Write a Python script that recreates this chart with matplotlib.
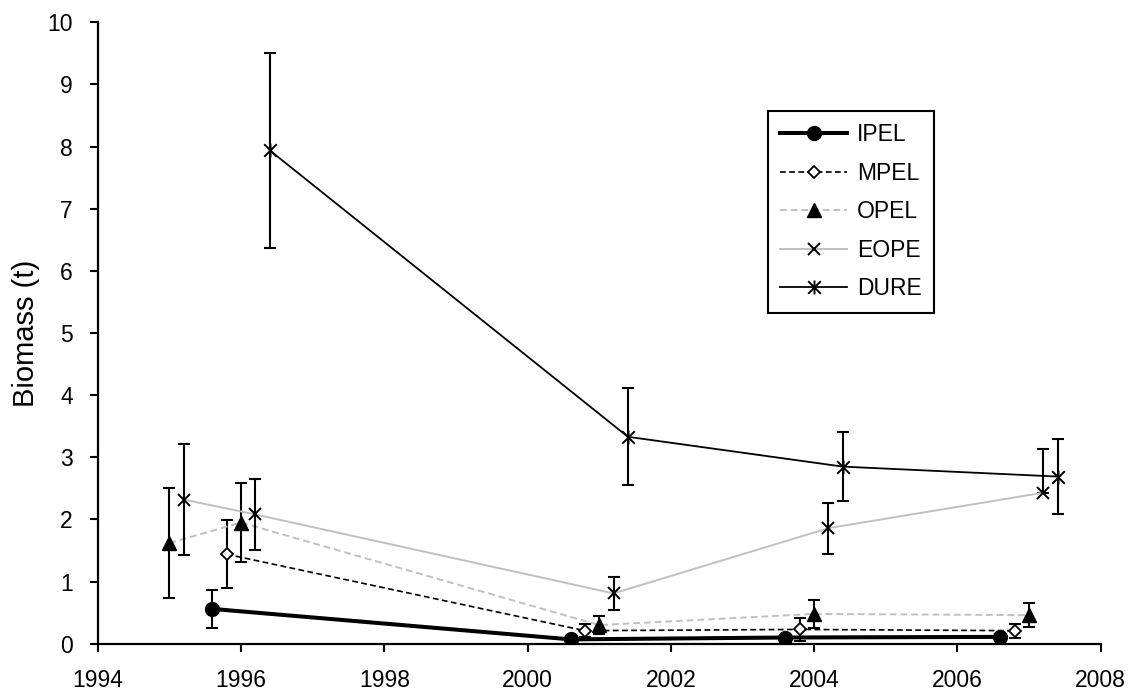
import numpy as np
import matplotlib.pyplot as plt
from matplotlib.path import Path

plt.rcParams['font.family'] = ['Liberation Sans', 'DejaVu Sans']

# survey years (offset per group so the points don't overlap)
ipel_x = [1995.6, 2000.6, 2003.6, 2006.6]
ipel_y = [0.56, 0.07, 0.10, 0.11]
ipel_err = [0.30, 0.03, 0.03, 0.03]

mpel_x = [1995.8, 2000.8, 2003.8, 2006.8]
mpel_y = [1.44, 0.21, 0.23, 0.21]
mpel_err = [0.55, 0.10, 0.19, 0.11]

opel_x = [1995.0, 1996.0, 2001.0, 2004.0, 2007.0]
opel_y = [1.62, 1.95, 0.30, 0.48, 0.46]
opel_err = [0.88, 0.63, 0.14, 0.22, 0.19]

eope_x = [1995.2, 1996.2, 2001.2, 2004.2, 2007.2]
eope_y = [2.32, 2.08, 0.81, 1.86, 2.43]
eope_err_lo = [0.90, 0.57, 0.27, 0.41, 0.0]
eope_err_hi = [0.90, 0.57, 0.27, 0.41, 0.70]

dure_x = [1996.4, 2001.4, 2004.4, 2007.4]
dure_y = [7.94, 3.33, 2.85, 2.69]
dure_err = [1.57, 0.78, 0.55, 0.60]

labels = ["IPEL", "MPEL", "OPEL", "EOPE", "DURE"]

# Excel-like star marker: an x with a vertical bar through it
star = Path([(-1, -1), (1, 1), (-1, 1), (1, -1), (0, -1.1), (0, 1.1)],
            [Path.MOVETO, Path.LINETO, Path.MOVETO, Path.LINETO,
             Path.MOVETO, Path.LINETO])

fig = plt.figure(figsize=(11.34, 6.96), dpi=100)
ax = fig.add_axes([0.0862, 0.0751, 0.8844, 0.8929])

grey = "#c0c0c0"
styles = [
    dict(color="black", lw=2.9, ls="-", marker="o", ms=10, mfc="black", mec="black"),
    dict(color="black", lw=1.2, dashes=(3.5, 2), marker="D", ms=6.5, mfc="white", mec="black", mew=1.3),
    dict(color=grey, lw=1.4, dashes=(3.5, 2), marker="^", ms=10, mfc="black", mec="black"),
    dict(color=grey, lw=1.4, ls="-", marker="x", ms=8.5, mec="black", mew=1.4),
    dict(color="black", lw=1.3, ls="-", marker=star, ms=10, mec="black", mew=1.4, fillstyle="none"),
]
series = [(ipel_x, ipel_y, ipel_err), (mpel_x, mpel_y, mpel_err),
          (opel_x, opel_y, opel_err), (eope_x, eope_y, [eope_err_lo, eope_err_hi]),
          (dure_x, dure_y, dure_err)]

for (x, y, e), st, lab in zip(series, styles, labels):
    ax.errorbar(x, y, yerr=e, fmt="none", ecolor="black", elinewidth=1.5,
                capsize=4, capthick=1.5)
    ax.plot(x, y, label=lab, **st)

ax.set_xlim(1994, 2008)
ax.set_ylim(0, 10)
ax.set_xticks(np.arange(1994, 2009, 2))
ax.set_yticks(np.arange(0, 11, 1))
for s in ["top", "right"]:
    ax.spines[s].set_visible(False)
for s in ["left", "bottom"]:
    ax.spines[s].set_linewidth(1.6)
ax.tick_params(direction="out", length=6, width=1.5, labelsize=16.5, pad=12)

ax.set_ylabel("Biomass (t)", fontsize=21)
ax.yaxis.set_label_coords(-0.058, 0.5)

leg = ax.legend(loc="upper left", bbox_to_anchor=(0.668, 0.858), borderaxespad=0,
                fontsize=16.5, handlelength=2.9, handletextpad=0.45,
                labelspacing=0.68, borderpad=0.55, fancybox=False,
                edgecolor="black", framealpha=1)
leg.get_frame().set_linewidth(1.5)

fig.savefig("out.png", dpi=100)
